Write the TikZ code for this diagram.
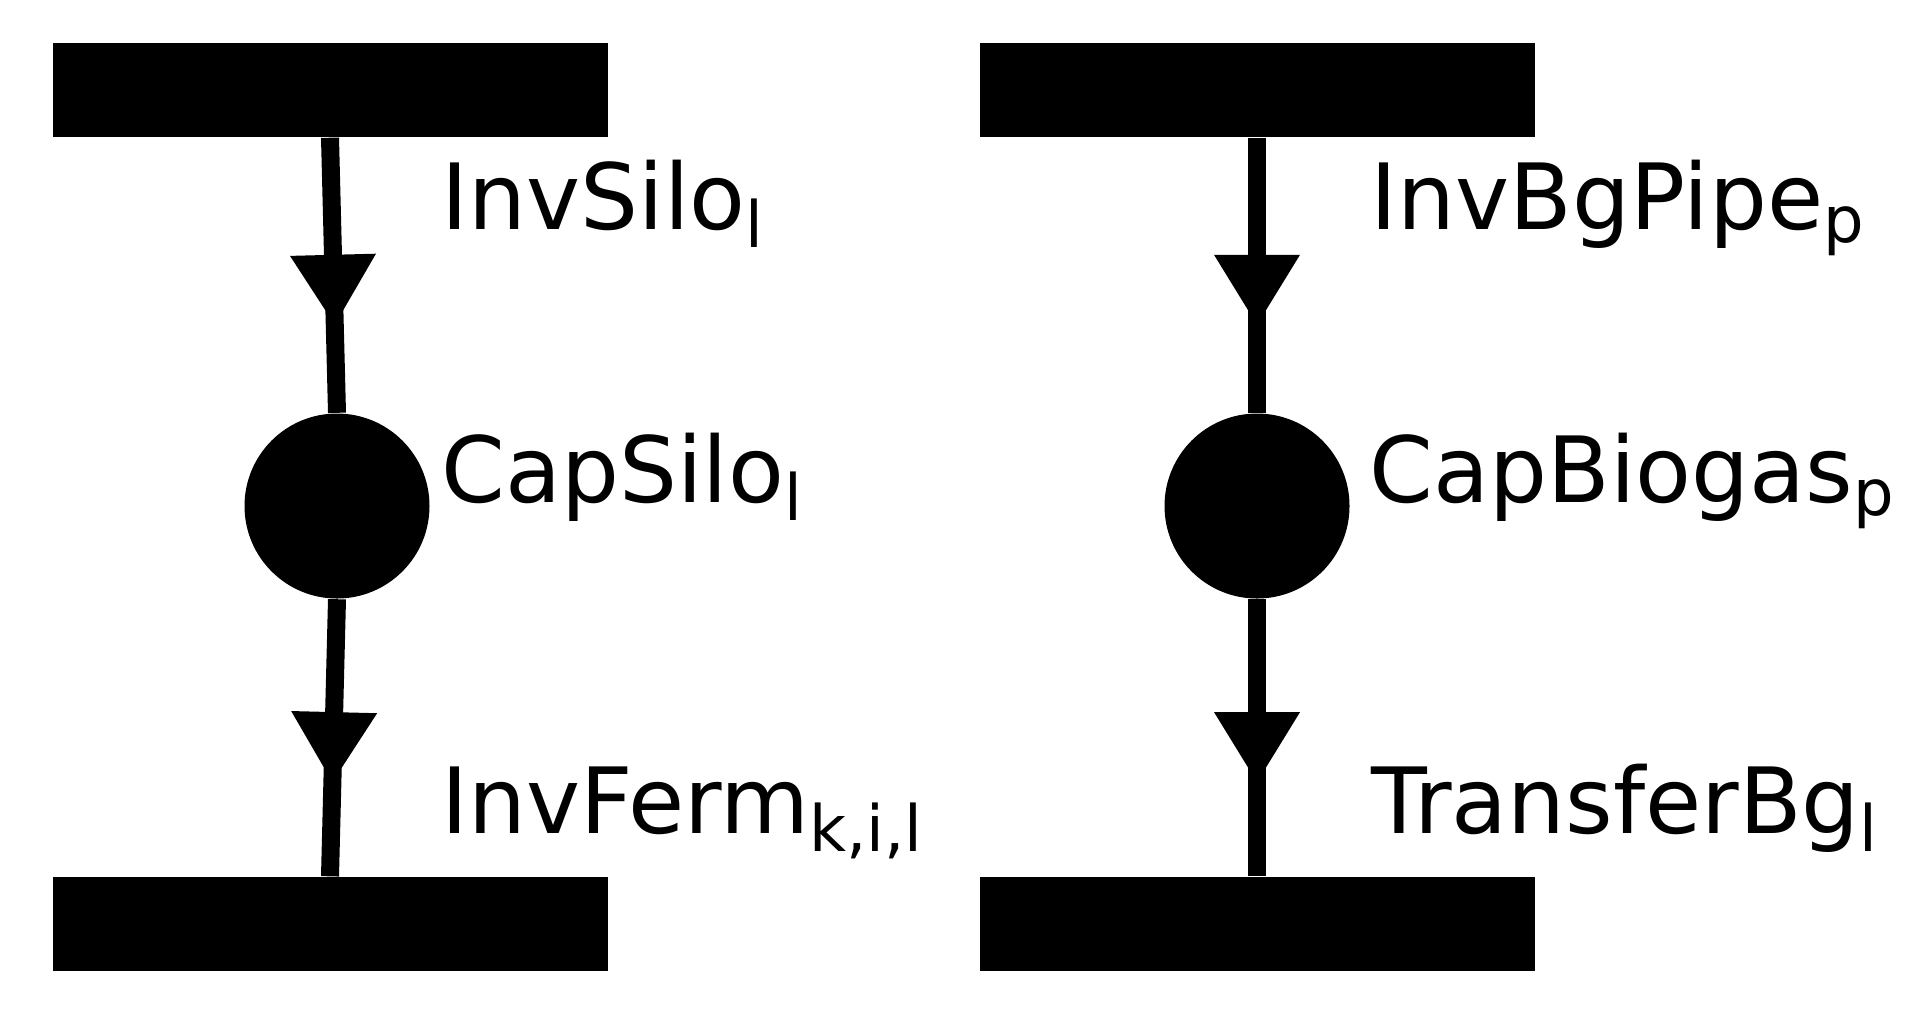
\documentclass[tikz,border=0pt]{standalone}
\usepackage{fontspec}
\setmainfont{DejaVu Sans}
\usetikzlibrary{arrows.meta,decorations.markings}

\tikzstyle{transition}=[fill=black,draw=none,rectangle,minimum width=5.55cm,minimum height=0.94cm,inner sep=0pt]
\tikzstyle{place}=[fill=black,draw=none,circle,minimum size=1.85cm,inner sep=0pt]
\tikzstyle{flow}=[line width=0.18cm,postaction={decorate}]
\tikzstyle{lbl}=[anchor=base west,inner sep=0pt,font=\fontsize{26pt}{30pt}\selectfont]

\begin{document}
\begin{tikzpicture}
    \useasboundingbox (0,0) rectangle (19.12,-10.12);

    \node (t1)[transition] at (3.30,-0.90) {};
    \node (c1)[place] at (3.37,-5.06) {};
    \node (b1)[transition] at (3.30,-9.24) {};

    \node (t2)[transition] at (12.57,-0.90) {};
    \node (c2)[place] at (12.57,-5.06) {};
    \node (b2)[transition] at (12.57,-9.24) {};

    \draw[flow,decoration={markings,mark=at position 0.68 with {\arrow[line width=0pt]{Triangle[width=0.86cm,length=0.70cm]}}}] (t1.south) -- (c1.north);
    \draw[flow,decoration={markings,mark=at position 0.66 with {\arrow[line width=0pt]{Triangle[width=0.86cm,length=0.70cm]}}}] (c1.south) -- (b1.north);
    \draw[flow,decoration={markings,mark=at position 0.68 with {\arrow[line width=0pt]{Triangle[width=0.86cm,length=0.70cm]}}}] (t2.south) -- (c2.north);
    \draw[flow,decoration={markings,mark=at position 0.66 with {\arrow[line width=0pt]{Triangle[width=0.86cm,length=0.70cm]}}}] (c2.south) -- (b2.north);

    \node (l1)[lbl] at (4.41,-2.29) {InvSilo\textsubscript{l}};
    \node (l2)[lbl] at (4.41,-5.02) {CapSilo\textsubscript{l}};
    \node (l3)[lbl] at (4.41,-8.33) {InvFerm\textsubscript{k,i,l}};
    \node (r1)[lbl] at (13.70,-2.29) {InvBgPipe\textsubscript{p}};
    \node (r2)[lbl] at (13.69,-5.02) {CapBiogas\textsubscript{p}};
    \node (r3)[lbl] at (13.71,-8.33) {TransferBg\textsubscript{l}};
\end{tikzpicture}
\end{document}
